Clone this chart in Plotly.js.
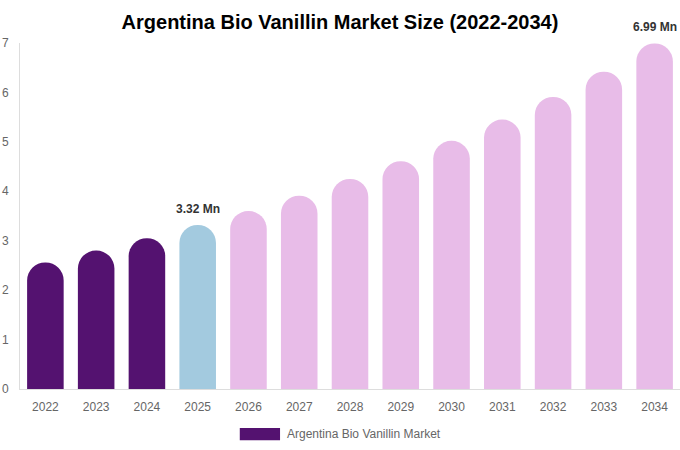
<!DOCTYPE html>
<html>
<head>
<meta charset="utf-8">
<script src="https://cdn.plot.ly/plotly-3.0.1.min.js"></script>
<style>
  html, body { margin: 0; padding: 0; background: #fff; }
  #chart { width: 680px; height: 450px; }
</style>
</head>
<body>
<div id="chart"></div>
<script>
// 資料：年份與市場規模（Mn）
const years = ["2022", "2023", "2024", "2025", "2026", "2027", "2028",
               "2029", "2030", "2031", "2032", "2033", "2034"];
const marketSize = [2.56, 2.80, 3.05, 3.32, 3.60, 3.91, 4.25,
                    4.61, 5.02, 5.45, 5.91, 6.42, 6.99];
const barColors = ["#541270", "#541270", "#541270", "#a3cadf",
                   "#e8bce8", "#e8bce8", "#e8bce8", "#e8bce8", "#e8bce8",
                   "#e8bce8", "#e8bce8", "#e8bce8", "#e8bce8"];
const labelYears = ["2025", "2034"];
const seriesName = "Argentina Bio Vanillin Market";

const trace = {
  type: "bar",
  x: years,
  y: marketSize,
  name: seriesName,
  marker: { color: barColors, cornerradius: 18 },
  hoverinfo: "x+y",
  showlegend: false,
};

// 數值標籤：類別軸用索引定位，避免 "2025" 被當成數字
const annotations = labelYears.map(yr => {
  const i = years.indexOf(yr);
  return {
    x: i,
    y: marketSize[i],
    xref: "x",
    yref: "y",
    text: "<b>" + marketSize[i].toFixed(2) + " Mn</b>",
    showarrow: false,
    yanchor: "bottom",
    yshift: 7,
    font: { family: "Liberation Sans, Arial, sans-serif", size: 12, color: "#333" },
  };
});

// 圖例文字
annotations.push({
  xref: "paper", yref: "paper",
  x: 0.401, y: -0.13,
  xanchor: "left", yanchor: "middle",
  text: seriesName,
  showarrow: false,
  font: { family: "Liberation Sans, Arial, sans-serif", size: 12, color: "#666" },
});

const layout = {
  width: 680,
  height: 450,
  margin: { l: 20, r: 0, t: 43, b: 61 },
  paper_bgcolor: "#fff",
  plot_bgcolor: "#fff",
  bargap: 0.28,
  title: {
    text: "<b>Argentina Bio Vanillin Market Size (2022-2034)</b>",
    x: 0.5,
    xanchor: "center",
    y: 0.951,
    yanchor: "middle",
    font: { family: "Liberation Sans, Arial, sans-serif", size: 20, color: "#000" },
  },
  xaxis: {
    type: "category",
    range: [-0.5, years.length - 0.5],
    showgrid: false,
    showline: true,
    linecolor: "#ddd",
    linewidth: 1,
    ticks: "",
    tickfont: { family: "Liberation Sans, Arial, sans-serif", size: 12, color: "#666" },
    ticklabelstandoff: 7,
  },
  yaxis: {
    range: [0, 7],
    dtick: 1,
    showgrid: false,
    zeroline: false,
    showline: true,
    linecolor: "#ddd",
    linewidth: 1,
    ticks: "",
    tickfont: { family: "Liberation Sans, Arial, sans-serif", size: 12, color: "#666" },
    ticklabelstandoff: 8,
  },
  shapes: [{
    type: "rect",
    xref: "paper", yref: "paper",
    x0: 0.333, x1: 0.394,
    y0: -0.148, y1: -0.113,
    fillcolor: "#541270",
    line: { width: 0 },
  }],
  annotations,
};

Plotly.newPlot("chart", [trace], layout, { displayModeBar: false, responsive: false });
</script>
</body>
</html>
